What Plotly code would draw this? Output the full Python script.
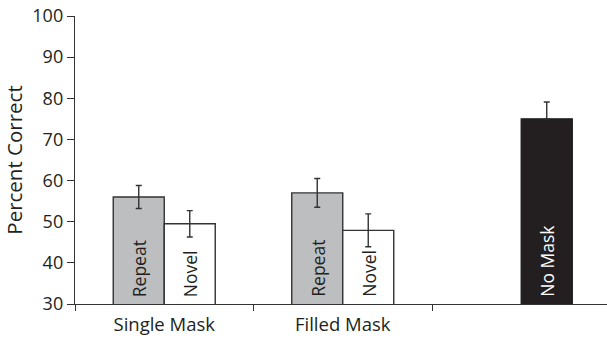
import plotly.graph_objects as go

# Percent correct by mask condition
categories = ["Single Mask", "Filled Mask", ""]
repeat_vals = [56.0, 57.0]
repeat_err = [2.8, 3.5]
novel_vals = [49.5, 47.9]
novel_err = [3.2, 4.0]
nomask_val = [75.0]
nomask_err = [4.1]
y_ticks = [30, 40, 50, 60, 70, 80, 90, 100]

FONT = "Open Sans"
INK = "#231f20"
EDGE = "#333333"
BAR_W = 2 / 7

fig = go.Figure()

# group centres sit at 0.5, 1.5, 2.5 on a numeric axis
rep_x = [i + 0.5 - BAR_W / 2 for i in range(len(repeat_vals))]
nov_x = [i + 0.5 + BAR_W / 2 for i in range(len(novel_vals))]
nm_x = [2.5 + BAR_W / 2]

err_style = dict(type="data", visible=True, thickness=1.4, width=3)

fig.add_trace(go.Bar(
    x=rep_x, y=repeat_vals, width=BAR_W, base=0,
    marker=dict(color="#bcbec0", line=dict(color=EDGE, width=1.4)),
    error_y=dict(array=repeat_err, color=EDGE, **err_style),
))
fig.add_trace(go.Bar(
    x=nov_x, y=novel_vals, width=BAR_W, base=0,
    marker=dict(color="#ffffff", line=dict(color=EDGE, width=1.4)),
    error_y=dict(array=novel_err, color=EDGE, **err_style),
))
# only the upper whisker is visible against the solid bar
fig.add_trace(go.Bar(
    x=nm_x, y=nomask_val, width=BAR_W, base=0,
    marker=dict(color=INK, line=dict(color=INK, width=1.4)),
    error_y=dict(array=nomask_err, arrayminus=[0] * len(nomask_err),
                 symmetric=False, color=EDGE, **err_style),
))

# vertical labels inside each bar, anchored at the baseline
def bar_label(x, text, color):
    fig.add_annotation(
        x=x, y=30, xref="x", yref="y", text=text, textangle=-90,
        showarrow=False, xanchor="center", yanchor="bottom", yshift=5,
        font=dict(family=FONT, size=17.5, color=color),
    )

for x in rep_x:
    bar_label(x, "Repeat", INK)
for x in nov_x:
    bar_label(x, "Novel", INK)
for x in nm_x:
    bar_label(x, "No Mask", "#ffffff")

fig.update_layout(
    width=607, height=341,
    margin=dict(l=75, r=0, t=16, b=37),
    paper_bgcolor="white", plot_bgcolor="white",
    showlegend=False, barmode="overlay",
    font=dict(family=FONT, size=18, color=INK),
    xaxis=dict(
        range=[0, 532 / 178.5],
        tickvals=[0.5, 1.5], ticktext=categories[:2],
        ticks="", showgrid=False, zeroline=False,
        showline=True, linecolor=EDGE, linewidth=1.4,
        ticklabelstandoff=4,
        tickfont=dict(family=FONT, size=18.5, color=INK),
        minor=dict(tickvals=[0, 1, 2], ticks="outside", ticklen=6,
                   tickwidth=1.4, tickcolor=EDGE, showgrid=False),
    ),
    yaxis=dict(
        range=[30, 100], tickvals=y_ticks,
        ticks="outside", ticklen=7, tickwidth=1.4, tickcolor=EDGE,
        showgrid=False, zeroline=False,
        showline=True, linecolor=EDGE, linewidth=1.4,
        tickfont=dict(family=FONT, size=18, color=INK),
        title=dict(text="Percent Correct", standoff=10,
                   font=dict(family=FONT, size=20.5, color=INK)),
    ),
)

fig.write_html("out.html")
